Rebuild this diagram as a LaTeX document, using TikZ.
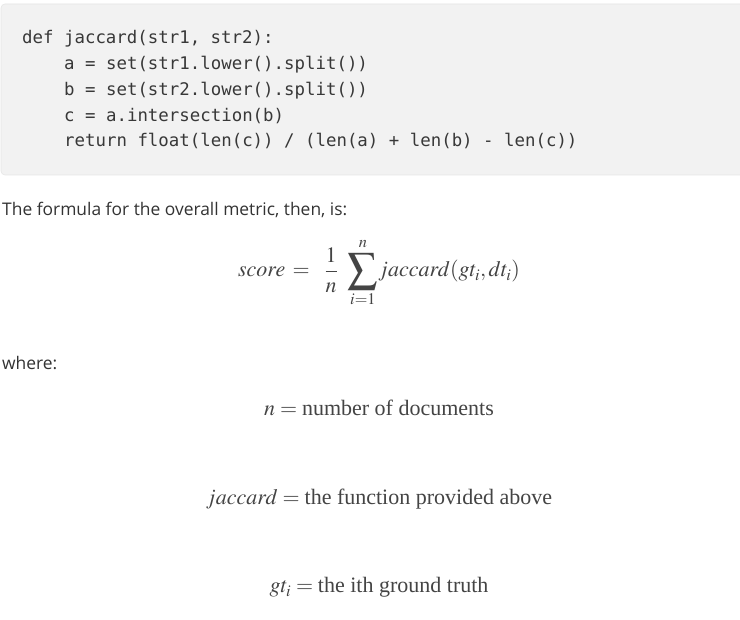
\documentclass[tikz,border=0pt]{standalone}
\usepackage{graphicx}
\usepackage{mathptmx}
\usepackage[no-math]{fontspec}
\setmainfont{Liberation Serif}
\newfontfamily\uisans{Open Sans}
\newfontfamily\codemono{DejaVu Sans Mono}
\definecolor{codebg}{HTML}{F2F2F2}
\definecolor{codeborder}{HTML}{E6E6E6}
\definecolor{codetext}{HTML}{383838}
\definecolor{bodytext}{HTML}{333333}
\definecolor{mathtext}{HTML}{444444}
\newcommand{\bigsumop}{\mathop{\vcenter{\hbox{\scalebox{1.35}{$\displaystyle\sum$}}}}\limits}
\tikzset{
  codeline/.style={anchor=base west, inner sep=0pt, text=codetext, font=\codemono\fontsize{17.4}{20}\selectfont},
  bodyline/.style={anchor=base west, inner sep=0pt, text=bodytext, font=\uisans\fontsize{17.4}{21}\selectfont},
  mathline/.style={anchor=base, inner sep=0pt, text=mathtext, font=\fontsize{22}{26}\selectfont},
}
\begin{document}
\begin{tikzpicture}[x=1pt,y=-1pt]
\useasboundingbox (0,0) rectangle (740,620);
\fill[white] (0,0) rectangle (740,620);
\draw[codeborder, fill=codebg, rounded corners=4pt, line width=0.6pt] (1,4) rectangle (745,175);
\node[codeline] (c1) at (22,44) {def jaccard(str1, str2):};
\node[codeline] (c2) at (64,69.75) {a = set(str1.lower().split())};
\node[codeline] (c3) at (64,95.5) {b = set(str2.lower().split())};
\node[codeline] (c4) at (64,121.25) {c = a.intersection(b)};
\node[codeline] (c5) at (64,147) {return float(len(c)) / (len(a) + len(b) - len(c))};
\node[bodyline] (t1) at (2,216) {The formula for the overall metric, then, is:};
\node[mathline] (f) at (379,277) {$\displaystyle score \,=\;\; \frac{1\rule[-2.5pt]{0pt}{2.5pt}}{\rule{0pt}{16pt}n}\;\, \bigsumop_{i=1}^{\raisebox{1.5pt}{$\scriptstyle n$}}\! jaccard(gt_i, dt_i)$};
\node[bodyline] (t2) at (2,370) {where:};
\node[mathline] (r1) at (379,416) {$n = \mbox{number of documents}$};
\node[mathline] (r2) at (379,505) {$jaccard = \mbox{the function provided above}$};
\node[mathline] (r3) at (379,593) {$gt_i = \mbox{the ith ground truth}$};
\end{tikzpicture}
\end{document}
